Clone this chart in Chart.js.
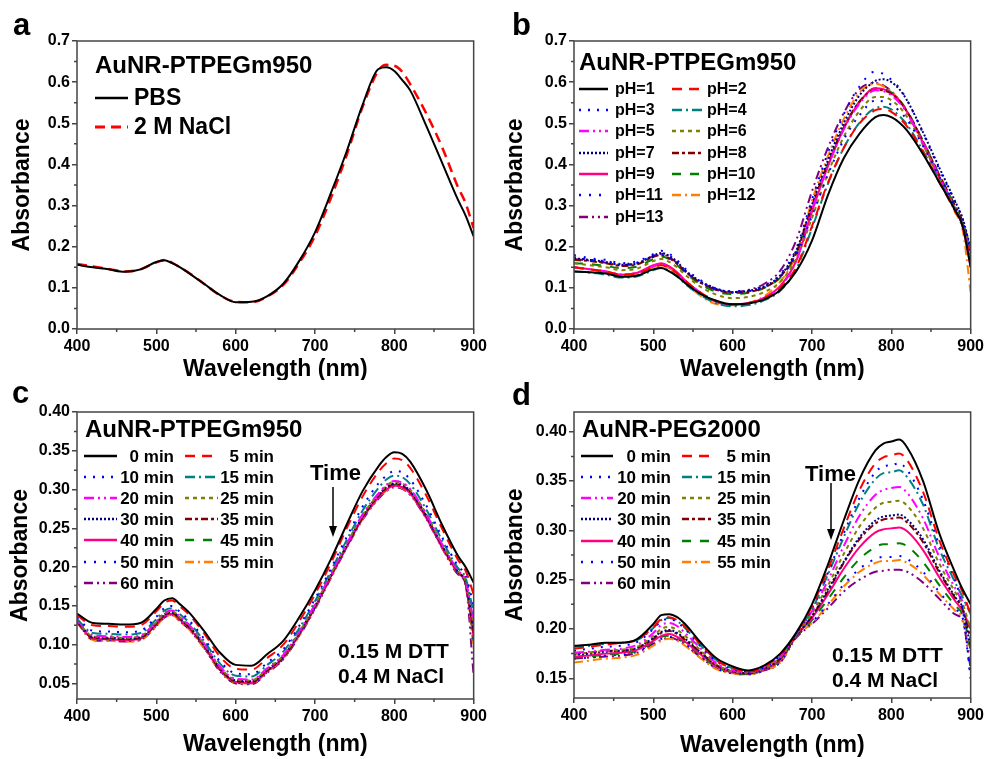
<!DOCTYPE html>
<html>
<head>
<meta charset="utf-8">
<script src="https://cdn.jsdelivr.net/npm/chart.js@4.4.0/dist/chart.umd.min.js"></script>
<style>
  body { margin: 0; background: #fff; width: 987px; height: 759px; position: relative; overflow: hidden; }
  canvas { position: absolute; }
</style>
</head>
<body>
<canvas id="panelA" width="490" height="380" style="left:0;top:0"></canvas>
<canvas id="panelB" width="497" height="380" style="left:490px;top:0"></canvas>
<canvas id="panelC" width="490" height="379" style="left:0;top:380px"></canvas>
<canvas id="panelD" width="497" height="379" style="left:490px;top:380px"></canvas>
<script>
// wavelength grid (nm) shared by every spectrum
const wavelength = [400,420,440,460,480,500,510,520,530,540,560,580,600,620,640,660,680,700,720,740,760,780,790,800,810,820,840,860,880,890,900];

// axis ticks
const xTicks = [400, 500, 600, 700, 800, 900];
const xMinor = [450, 550, 650, 750, 850];
const yTicksAB = [0, 0.1, 0.2, 0.3, 0.4, 0.5, 0.6, 0.7];
const yMinorAB = [0.05, 0.15, 0.25, 0.35, 0.45, 0.55, 0.65];
const yTicksC = [0.05, 0.10, 0.15, 0.20, 0.25, 0.30, 0.35, 0.40];
const yMinorC = [0.075, 0.125, 0.175, 0.225, 0.275, 0.325, 0.375];
const yTicksD = [0.15, 0.20, 0.25, 0.30, 0.35, 0.40];
const yMinorD = [0.175, 0.225, 0.275, 0.325, 0.375];

// panel a
const labelsA = ['PBS', '2 M NaCl'];
const pbs  = [.156,.150,.145,.139,.145,.163,.167,.160,.150,.137,.110,.083,.065,.066,.080,.110,.165,.235,.330,.432,.545,.632,.636,.627,.605,.580,.495,.405,.315,.275,.225];
const nacl = [.158,.152,.146,.140,.145,.162,.168,.161,.150,.138,.110,.082,.066,.065,.079,.107,.160,.226,.318,.423,.540,.628,.642,.640,.625,.595,.525,.443,.346,.305,.245];

// panel b
const labelsB = ['pH=1','pH=2','pH=3','pH=4','pH=5','pH=6','pH=7','pH=8','pH=9','pH=10','pH=11','pH=12','pH=13'];
const ph1  = [.140,.138,.135,.127,.130,.145,.148,.140,.128,.112,.085,.068,.060,.062,.072,.095,.140,.215,.325,.415,.475,.515,.520,.515,.502,.482,.425,.358,.290,.250,.150];
const ph2  = [.150,.145,.140,.132,.135,.150,.155,.148,.135,.118,.088,.068,.060,.063,.075,.100,.150,.250,.355,.440,.500,.532,.535,.528,.513,.492,.430,.358,.288,.248,.170];
const ph3  = [.175,.168,.165,.158,.162,.178,.183,.176,.160,.140,.115,.098,.090,.092,.102,.128,.180,.275,.375,.460,.520,.555,.553,.545,.530,.508,.445,.372,.300,.260,.190];
const ph4  = [.140,.137,.132,.125,.128,.143,.148,.142,.128,.110,.082,.062,.055,.058,.070,.093,.145,.245,.352,.440,.502,.537,.540,.534,.518,.496,.433,.362,.292,.252,.180];
const ph5  = [.150,.145,.140,.133,.137,.153,.158,.150,.136,.118,.088,.066,.058,.062,.076,.103,.165,.290,.395,.485,.548,.580,.578,.568,.550,.524,.452,.372,.292,.250,.160];
const ph6  = [.160,.155,.150,.143,.147,.165,.170,.163,.150,.132,.102,.083,.075,.078,.090,.115,.170,.270,.378,.467,.530,.564,.564,.556,.540,.515,.448,.370,.296,.254,.180];
const ph7  = [.172,.168,.163,.156,.160,.178,.185,.178,.163,.143,.115,.097,.090,.093,.104,.130,.190,.302,.410,.500,.568,.603,.607,.600,.583,.555,.478,.394,.312,.268,.195];
const ph8  = [.168,.165,.160,.153,.157,.175,.180,.172,.158,.140,.112,.095,.088,.090,.101,.127,.185,.298,.402,.490,.553,.581,.580,.572,.555,.528,.456,.376,.300,.258,.185];
const ph9  = [.150,.145,.140,.132,.137,.155,.160,.152,.138,.118,.087,.065,.060,.063,.076,.105,.165,.285,.395,.487,.552,.585,.583,.573,.555,.528,.453,.370,.292,.250,.150];
const ph10 = [.160,.158,.153,.148,.152,.170,.176,.170,.155,.137,.108,.090,.085,.088,.100,.125,.182,.292,.398,.488,.553,.585,.584,.575,.557,.530,.457,.377,.300,.258,.200];
const ph11 = [.180,.172,.168,.160,.165,.182,.190,.183,.167,.147,.118,.098,.092,.094,.106,.133,.195,.315,.428,.522,.590,.626,.620,.606,.586,.556,.476,.390,.310,.265,.185];
const ph12 = [.150,.145,.138,.130,.133,.150,.156,.148,.132,.112,.080,.060,.058,.063,.080,.115,.180,.312,.420,.510,.575,.596,.590,.578,.556,.526,.448,.365,.285,.240,.090];
const ph13 = [.170,.166,.161,.155,.160,.177,.182,.175,.160,.140,.112,.095,.090,.095,.110,.142,.215,.335,.440,.525,.583,.598,.592,.578,.556,.526,.450,.370,.295,.250,.160];

// panels c and d share the time labels
const timeLabels = ['0 min','5 min','10 min','15 min','20 min','25 min','30 min','35 min','40 min','45 min','50 min','55 min','60 min'];

// panel c: AuNR-PTPEGm950 in DTT
const c0  = [.140,.128,.127,.126,.128,.146,.157,.160,.152,.143,.118,.090,.074,.073,.088,.105,.135,.170,.210,.255,.298,.330,.342,.348,.346,.336,.300,.255,.215,.200,.180];
const c5  = [.138,.125,.124,.123,.125,.143,.154,.157,.149,.140,.115,.085,.069,.068,.083,.100,.130,.165,.205,.250,.291,.323,.334,.340,.338,.328,.293,.250,.210,.195,.165];
const c10 = [.135,.118,.117,.116,.118,.136,.147,.150,.142,.133,.108,.079,.063,.062,.077,.094,.124,.159,.198,.239,.278,.308,.318,.324,.322,.313,.280,.239,.202,.189,.150];
const c15 = [.133,.115,.114,.113,.115,.133,.144,.147,.139,.130,.105,.076,.060,.059,.074,.091,.121,.156,.195,.235,.273,.302,.313,.318,.316,.307,.275,.235,.199,.186,.140];
const c20 = [.132,.112,.111,.110,.112,.130,.141,.144,.136,.127,.102,.072,.056,.055,.070,.087,.117,.152,.191,.230,.268,.295,.306,.311,.309,.301,.269,.230,.196,.182,.130];
const c25 = [.131,.111,.110,.109,.111,.129,.140,.143,.135,.126,.101,.071,.055,.054,.069,.086,.116,.151,.191,.230,.267,.294,.305,.310,.308,.300,.269,.230,.195,.181,.125];
const c30 = [.131,.110,.109,.108,.110,.128,.139,.142,.134,.125,.100,.070,.054,.053,.068,.085,.115,.150,.190,.228,.265,.293,.303,.308,.306,.298,.267,.228,.194,.180,.120];
const c35 = [.130,.109,.108,.107,.109,.127,.138,.141,.133,.124,.099,.069,.053,.052,.067,.084,.114,.149,.189,.228,.264,.292,.302,.307,.305,.297,.266,.228,.194,.179,.115];
const c40 = [.130,.108,.107,.106,.108,.126,.137,.140,.132,.123,.098,.068,.052,.051,.066,.083,.113,.148,.188,.226,.263,.290,.300,.305,.303,.295,.264,.226,.193,.178,.110];
const c45 = [.129,.108,.107,.106,.108,.126,.137,.140,.132,.123,.098,.068,.052,.051,.066,.083,.113,.148,.189,.227,.264,.291,.301,.306,.304,.296,.265,.227,.193,.178,.105];
const c50 = [.129,.107,.106,.105,.107,.125,.136,.139,.131,.122,.097,.067,.051,.050,.065,.082,.112,.147,.187,.226,.263,.290,.300,.305,.303,.295,.264,.226,.192,.177,.100];
const c55 = [.129,.106,.105,.104,.106,.124,.135,.138,.130,.121,.096,.067,.051,.050,.065,.082,.112,.147,.187,.226,.262,.289,.299,.304,.302,.294,.264,.226,.192,.177,.095];
const c60 = [.129,.106,.105,.104,.106,.124,.135,.138,.130,.121,.096,.066,.050,.049,.064,.081,.111,.146,.186,.225,.261,.288,.298,.303,.301,.293,.263,.225,.191,.176,.060];

// panel d: AuNR-PEG2000 in DTT
const d0  = [.183,.184,.186,.186,.190,.205,.214,.215,.212,.205,.186,.170,.162,.158,.163,.175,.196,.225,.265,.310,.352,.381,.388,.390,.392,.384,.350,.298,.258,.240,.225];
const d5  = [.180,.182,.184,.186,.189,.202,.210,.212,.209,.202,.184,.168,.160,.157,.162,.174,.195,.223,.260,.302,.341,.368,.374,.376,.378,.371,.339,.291,.253,.237,.215];
const d10 = [.178,.180,.182,.183,.187,.200,.208,.210,.207,.200,.182,.167,.159,.157,.161,.173,.195,.221,.257,.297,.333,.359,.365,.366,.368,.361,.331,.286,.250,.220,.150];
const d15 = [.182,.183,.185,.186,.189,.201,.209,.211,.208,.201,.183,.168,.160,.157,.162,.174,.195,.220,.255,.293,.328,.352,.358,.359,.361,.354,.326,.282,.248,.232,.215];
const d20 = [.176,.177,.179,.180,.184,.196,.204,.206,.203,.196,.180,.165,.158,.156,.161,.172,.194,.218,.249,.284,.315,.336,.341,.343,.344,.338,.312,.274,.242,.228,.220];
const d25 = [.175,.176,.178,.179,.182,.193,.200,.202,.199,.193,.178,.164,.157,.156,.160,.171,.194,.216,.244,.276,.304,.323,.328,.329,.330,.325,.302,.267,.238,.225,.200];
const d30 = [.174,.175,.177,.178,.181,.191,.197,.199,.196,.190,.176,.163,.157,.155,.160,.170,.193,.213,.240,.268,.293,.310,.314,.315,.316,.311,.291,.260,.233,.221,.180];
const d35 = [.175,.176,.178,.178,.181,.190,.196,.198,.195,.189,.176,.163,.157,.155,.160,.170,.193,.213,.238,.267,.291,.307,.311,.312,.313,.308,.288,.258,.232,.220,.190];
const d40 = [.172,.173,.175,.176,.179,.188,.193,.195,.192,.187,.174,.162,.156,.155,.159,.169,.193,.211,.235,.261,.283,.298,.301,.302,.303,.299,.280,.253,.229,.218,.200];
const d45 = [.171,.172,.174,.175,.178,.187,.192,.193,.191,.186,.173,.161,.156,.154,.159,.168,.192,.209,.230,.252,.271,.283,.286,.286,.287,.284,.268,.245,.224,.214,.180];
const d50 = [.170,.171,.173,.174,.177,.186,.190,.192,.190,.185,.172,.160,.155,.154,.158,.167,.192,.207,.225,.245,.261,.271,.273,.273,.274,.271,.258,.238,.220,.211,.150];
const d55 = [.166,.168,.170,.171,.174,.183,.188,.190,.188,.183,.170,.159,.155,.154,.158,.166,.192,.206,.224,.243,.258,.267,.269,.269,.270,.267,.255,.236,.219,.210,.170];
const d60 = [.170,.171,.172,.173,.176,.185,.189,.191,.189,.184,.171,.160,.155,.154,.158,.166,.191,.205,.221,.238,.250,.258,.259,.260,.260,.258,.247,.231,.215,.208,.160];

// line styles (Origin-like default sequence)
const seqStyles = [
  { color: '#000000', dash: [] },
  { color: '#FF0000', dash: [10, 7] },
  { color: '#0000FF', dash: [2, 7] },
  { color: '#008080', dash: [10, 4, 2, 4] },
  { color: '#FF00FF', dash: [10, 4, 2, 4, 2, 4] },
  { color: '#808000', dash: [4, 4] },
  { color: '#000080', dash: [2, 2] },
  { color: '#800000', dash: [7, 3, 3, 3] },
  { color: '#FF0080', dash: [] },
  { color: '#008000', dash: [9, 9] },
  { color: '#0000FF', dash: [2, 8] },
  { color: '#FF8000', dash: [9, 4, 2, 4] },
  { color: '#800080', dash: [9, 4, 2, 4, 2, 4] }
];
const stylesA = [
  { color: '#000000', dash: [], width: 2 },
  { color: '#FF0000', dash: [10, 6], width: 2.5 }
];

const FONT = "'Liberation Sans', Arial, sans-serif";

// frame, minor ticks, panel letter, in-plot title, legend and notes
const decor = {
  id: 'decor',
  afterDraw(chart, args, o) {
    const { ctx, chartArea: ca } = chart;
    const xs = chart.scales.x, ys = chart.scales.y;
    ctx.save();
    ctx.strokeStyle = '#444';
    ctx.lineWidth = 1.5;
    ctx.strokeRect(ca.left, ca.top, ca.right - ca.left, ca.bottom - ca.top);
    ctx.beginPath();
    o.minorX.forEach(v => {
      const px = xs.getPixelForValue(v);
      ctx.moveTo(px, ca.bottom); ctx.lineTo(px, ca.bottom + 3);
    });
    o.minorY.forEach(v => {
      const py = ys.getPixelForValue(v);
      ctx.moveTo(ca.left, py); ctx.lineTo(ca.left - 3, py);
    });
    ctx.stroke();

    ctx.fillStyle = '#000';
    ctx.textBaseline = 'alphabetic';
    ctx.textAlign = 'left';
    ctx.font = 'bold 31px ' + FONT;
    ctx.fillText(o.letter.text, o.letter.x, o.letter.y);

    ctx.textBaseline = 'middle';
    ctx.font = 'bold 24px ' + FONT;
    ctx.fillText(o.title.text, o.title.x, o.title.y);

    // legend
    const lg = o.legend;
    chart.data.datasets.forEach((ds, i) => {
      const col = lg.cols[i % lg.cols.length];
      const y = lg.rows[Math.floor(i / lg.cols.length)];
      ctx.strokeStyle = ds.borderColor;
      ctx.lineWidth = ds.borderWidth + 0.5;
      ctx.setLineDash(ds.borderDash);
      ctx.beginPath();
      ctx.moveTo(col.x0, y); ctx.lineTo(col.x1, y);
      ctx.stroke();
      ctx.setLineDash([]);
      ctx.fillStyle = '#000';
      ctx.font = 'bold ' + lg.size + 'px ' + FONT;
      ctx.textAlign = col.align;
      ctx.fillText(ds.label, col.tx, y + 1);
    });

    ctx.textAlign = 'left';
    (o.notes || []).forEach(n => {
      ctx.font = 'bold ' + n.size + 'px ' + FONT;
      ctx.fillText(n.text, n.x, n.y);
    });
    if (o.arrow) {
      const a = o.arrow;
      ctx.strokeStyle = '#000';
      ctx.lineWidth = 1.5;
      ctx.beginPath();
      ctx.moveTo(a.x, a.y0); ctx.lineTo(a.x, a.y1 - 8);
      ctx.stroke();
      ctx.beginPath();
      ctx.moveTo(a.x - 4, a.y1 - 11); ctx.lineTo(a.x + 4, a.y1 - 11); ctx.lineTo(a.x, a.y1);
      ctx.closePath();
      ctx.fillStyle = '#000';
      ctx.fill();
    }
    ctx.restore();
  }
};

function makeChart(id, p) {
  const tickFont = { family: FONT, weight: 'bold', size: 16 };
  const titleFont = { family: FONT, weight: 'bold', size: 23, lineHeight: 0.9 };
  return new Chart(document.getElementById(id), {
    type: 'line',
    data: {
      datasets: p.series.map((ys, i) => ({
        label: p.labels[i],
        data: ys.map((y, j) => ({ x: wavelength[j], y: y })),
        borderColor: p.styles[i].color,
        borderDash: p.styles[i].dash,
        borderWidth: p.styles[i].width || 2,
        pointRadius: 0,
        fill: false,
        cubicInterpolationMode: 'monotone'
      }))
    },
    options: {
      responsive: false,
      animation: false,
      events: [],
      layout: { padding: { left: 0, top: p.top, right: 14, bottom: 0 } },
      plugins: { legend: { display: false }, tooltip: { enabled: false }, decor: p.decor },
      scales: {
        x: {
          type: 'linear', min: 400, max: 900,
          afterBuildTicks: s => { s.ticks = xTicks.map(v => ({ value: v })); },
          afterFit: s => { s.height = p.xh; },
          ticks: { font: tickFont, color: '#000', padding: 3, maxRotation: 0, callback: v => String(v) },
          grid: { drawOnChartArea: false, tickLength: 5, color: '#444', lineWidth: 1.5 },
          border: { display: false },
          title: { display: true, text: 'Wavelength (nm)', color: '#000', font: titleFont, padding: { top: 0, bottom: p.xtPad } }
        },
        y: {
          type: 'linear', min: p.yMin, max: p.yMax,
          afterBuildTicks: s => { s.ticks = p.yTicks.map(v => ({ value: v })); },
          afterFit: s => { s.width = p.yw; },
          ticks: { font: tickFont, color: '#000', padding: 2, callback: v => v.toFixed(p.dec) },
          grid: { drawOnChartArea: false, tickLength: 5, color: '#444', lineWidth: 1.5 },
          border: { display: false },
          title: { display: true, text: 'Absorbance', color: '#000', font: titleFont, padding: { top: p.ytPad, bottom: 0 } }
        }
      }
    },
    plugins: [decor]
  });
}

makeChart('panelA', {
  series: [pbs, nacl], labels: labelsA, styles: stylesA,
  yMin: 0, yMax: 0.7, yTicks: yTicksAB, dec: 1,
  top: 41, yw: 77, xh: 51, ytPad: 12, xtPad: 0,
  decor: {
    minorX: xMinor, minorY: yMinorAB,
    letter: { text: 'a', x: 13, y: 35 },
    title: { text: 'AuNR-PTPEGm950', x: 95, y: 66 },
    legend: { size: 23, rows: [98, 127], cols: [{ x0: 95, x1: 128, tx: 134, align: 'left' }] }
  }
});

makeChart('panelB', {
  series: [ph1, ph2, ph3, ph4, ph5, ph6, ph7, ph8, ph9, ph10, ph11, ph12, ph13],
  labels: labelsB, styles: seqStyles,
  yMin: 0, yMax: 0.7, yTicks: yTicksAB, dec: 1,
  top: 41, yw: 84, xh: 51, ytPad: 15, xtPad: 0,
  decor: {
    minorX: xMinor, minorY: yMinorAB,
    letter: { text: 'b', x: 22, y: 35 },
    title: { text: 'AuNR-PTPEGm950', x: 89, y: 63 },
    legend: { size: 16, rows: [89, 110, 131, 153, 174, 195, 217],
      cols: [{ x0: 89, x1: 118, tx: 125, align: 'left' }, { x0: 182, x1: 213, tx: 217, align: 'left' }] }
  }
});

makeChart('panelC', {
  series: [c0, c5, c10, c15, c20, c25, c30, c35, c40, c45, c50, c55, c60],
  labels: timeLabels, styles: seqStyles,
  yMin: 0.03, yMax: 0.40, yTicks: yTicksC, dec: 2,
  top: 32, yw: 77, xh: 60, ytPad: 10, xtPad: 4,
  decor: {
    minorX: xMinor, minorY: yMinorC,
    letter: { text: 'c', x: 12, y: 23 },
    title: { text: 'AuNR-PTPEGm950', x: 85, y: 50 },
    legend: { size: 17, rows: [76, 97, 118, 139, 160, 182, 203],
      cols: [{ x0: 84, x1: 117, tx: 174, align: 'right' }, { x0: 185, x1: 218, tx: 274, align: 'right' }] },
    notes: [
      { text: 'Time', x: 310, y: 94, size: 22 },
      { text: '0.15 M DTT', x: 338, y: 272, size: 21 },
      { text: '0.4 M NaCl', x: 338, y: 297, size: 21 }
    ],
    arrow: { x: 333, y0: 107, y1: 157 }
  }
});

makeChart('panelD', {
  series: [d0, d5, d10, d15, d20, d25, d30, d35, d40, d45, d50, d55, d60],
  labels: timeLabels, styles: seqStyles,
  yMin: 0.13, yMax: 0.42, yTicks: yTicksD, dec: 2,
  top: 32, yw: 84, xh: 61, ytPad: 15, xtPad: 3,
  decor: {
    minorX: xMinor, minorY: yMinorD,
    letter: { text: 'd', x: 22, y: 25 },
    title: { text: 'AuNR-PEG2000', x: 92, y: 50 },
    legend: { size: 17, rows: [76, 97, 118, 139, 161, 182, 203],
      cols: [{ x0: 91, x1: 123, tx: 181, align: 'right' }, { x0: 192, x1: 222, tx: 281, align: 'right' }] },
    notes: [
      { text: 'Time', x: 315, y: 95, size: 22 },
      { text: '0.15 M DTT', x: 342, y: 276, size: 21 },
      { text: '0.4 M NaCl', x: 342, y: 301, size: 21 }
    ],
    arrow: { x: 341, y0: 103, y1: 160 }
  }
});
</script>
</body>
</html>
